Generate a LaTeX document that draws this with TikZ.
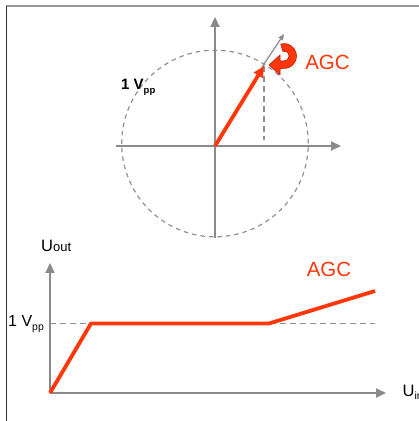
\documentclass[tikz,border=0pt]{standalone}
\usepackage{fontspec}
\setmainfont{Liberation Sans}
\usetikzlibrary{arrows.meta,calc}
\definecolor{agcred}{RGB}{255,55,10}
\definecolor{axisgray}{RGB}{138,138,138}
\definecolor{dashgray}{RGB}{145,145,145}
\tikzset{
  axisline/.style={draw=axisgray, line width=2.2pt, -{Triangle[length=10pt,width=9pt]}},
  dashline/.style={draw=dashgray, line width=1.2pt, dash pattern=on 6pt off 4pt},
  redline/.style={draw=agcred, line width=3.8pt, line join=round},
  agctext/.style={text=agcred, font=\fontsize{20.5}{22}\selectfont, inner sep=0pt},
  lbl/.style={inner sep=0pt, anchor=base west},
}
\begin{document}
\begin{tikzpicture}[x=1pt,y=1pt]
\useasboundingbox (0,0) rectangle (419,421);
\fill[white] (0,0) rectangle (419,421);
% frame
\draw[draw={rgb,255:red,150;green,150;blue,150}, line width=2pt] (6,414.5) -- (419,414.5);
\draw[draw={rgb,255:red,50;green,50;blue,50}, line width=1.3pt] (6.5,414.5) -- (6.5,0);
% ---------- upper phasor diagram ----------
\coordinate (O) at (215,275);
\coordinate (C) at (215,277.5);
\draw[dashgray, line width=1.2pt, dash pattern=on 4.5pt off 4pt] (C) circle[radius=93.3];
\coordinate (vb) at (215,183);
\coordinate (vt) at (215,404);
\coordinate (hl) at (116,275);
\coordinate (hr) at (341,275);
\draw[axisline] (vb) -- (vt);
\draw[axisline] (hl) -- (hr);
\coordinate (P) at (264,355);
\coordinate (Pg) at (262,354);
\coordinate (Q) at (284,387);
\coordinate (D) at (264,281);
\draw[dashline] (P) -- (D);
\draw[draw=axisgray, line width=1.2pt, -{Triangle[length=6pt,width=5pt]}] (Pg) -- (Q);
\draw[redline, -{Triangle[length=11pt,width=10pt]}] (O) -- (P);
% curved AGC arrow
\coordinate (c) at (284,365);
\filldraw[fill=agcred, draw={rgb,255:red,190;green,30;blue,10}, line width=0.6pt, line join=round]
  ($(c)+(105:5)$) -- ($(c)+(105:12.5)$) arc[start angle=105, end angle=-95, radius=12.5]
  -- (280,352) -- (280,346) -- (269,356) -- (280,366) -- (280,360)
  -- ($(c)+(-95:5)$) arc[start angle=-95, end angle=105, radius=5] -- cycle;
\node[agctext] (agc1) at (327.5,359) {AGC};
\node[lbl] (vpp1) at (121,331) {\fontsize{15}{16}\selectfont\bfseries 1 V\raisebox{-3.5pt}{\fontsize{9.5}{10}\selectfont pp}};
% ---------- lower transfer characteristic ----------
\coordinate (o) at (50,28);
\coordinate (yt) at (50,158);
\coordinate (xr) at (386,28);
\draw[axisline] (o) -- (yt);
\draw[axisline] (o) -- (xr);
\coordinate (d0) at (50,97.5);
\coordinate (d1) at (375,97.5);
\draw[dashline] (d0) -- (d1);
\coordinate (k1) at (91,97.5);
\coordinate (k2) at (269,97.5);
\coordinate (k3) at (375,130);
\draw[redline] (o) -- (k1) -- (k2) -- (k3);
\node[agctext] (agc2) at (329,152) {AGC};
\node[lbl] (vpp2) at (8,94) {\fontsize{16}{17}\selectfont 1 V\raisebox{-3.5pt}{\fontsize{10.5}{11}\selectfont pp}};
\node[lbl] (uout) at (41,169.7) {\fontsize{16.5}{17}\selectfont U\fontsize{13}{14}\selectfont out};
\node[lbl] (uin) at (402.5,24.5) {\fontsize{16.5}{17}\selectfont U\raisebox{-3.5pt}{\fontsize{10.5}{11}\selectfont in}};
\end{tikzpicture}
\end{document}
